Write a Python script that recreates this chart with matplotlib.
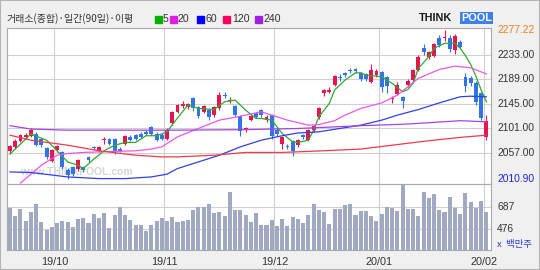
import matplotlib
matplotlib.use('Agg')
import matplotlib.pyplot as plt
from matplotlib.patches import Rectangle

plt.rcParams['font.family'] = ['Liberation Sans', 'Noto Sans CJK KR', 'DejaVu Sans']

# ---------------- data ----------------
month_labels = ['19/10', '19/11', '19/12', '20/01', '20/02']
month_start_idx = [9, 30, 51, 71, 91]

opens = [2061, 2068, 2079, 2085, 2088, 2092, 2082, 2066, 2042, 2062,
         2058, 2027, 2032, 2028, 2031, 2049, 2068, 2061, 2080, 2082,
         2082, 2065, 2073, 2086, 2089, 2091, 2095, 2103, 2092, 2089,
         2082, 2110, 2131, 2141, 2139, 2155, 2139, 2130, 2134, 2125,
         2137, 2161, 2151, 2141, 2123, 2099, 2117, 2129, 2134, 2116,
         2125, 2098, 2074, 2070, 2079, 2071, 2089, 2080, 2098, 2121,
         2164, 2167, 2179, 2194, 2201, 2206, 2207, 2201, 2199, 2185,
         2197, 2203, 2194, 2154, 2163, 2158, 2179, 2188, 2206, 2245,
         2230, 2231, 2263, 2263, 2263, 2242, 2257, 2194, 2191, 2183,
         2164, 2086]
highs = [2072, 2082, 2092, 2093, 2101, 2094, 2084, 2068, 2065, 2072,
         2060, 2030, 2034, 2047, 2033, 2052, 2070, 2070, 2086, 2084,
         2084, 2067, 2089, 2090, 2091, 2094, 2099, 2105, 2094, 2093,
         2101, 2132, 2145, 2150, 2147, 2157, 2141, 2143, 2136, 2141,
         2167, 2166, 2157, 2143, 2125, 2103, 2127, 2131, 2136, 2126,
         2127, 2101, 2088, 2073, 2081, 2083, 2091, 2100, 2108, 2139,
         2172, 2175, 2197, 2198, 2203, 2209, 2210, 2203, 2201, 2217,
         2208, 2205, 2196, 2160, 2184, 2160, 2190, 2208, 2233, 2253,
         2241, 2255, 2269, 2277.22, 2269, 2271, 2260, 2200, 2196, 2186,
         2167, 2125]
lows = [2057, 2064, 2076, 2083, 2086, 2069, 2067, 2046, 2040, 2058,
        2028, 2010.90, 2016, 2025, 2022, 2041, 2062, 2059, 2074, 2072,
        2056, 2059, 2071, 2078, 2081, 2084, 2090, 2089, 2079, 2081,
        2080, 2108, 2129, 2137, 2136, 2132, 2119, 2128, 2117, 2122,
        2135, 2155, 2146, 2123, 2088, 2094, 2114, 2119, 2122, 2113,
        2083, 2087, 2064, 2064, 2052, 2068, 2083, 2078, 2095, 2118,
        2160, 2164, 2177, 2187, 2194, 2200, 2200, 2187, 2186, 2182,
        2194, 2167, 2165, 2147, 2161, 2137, 2176, 2186, 2204, 2233,
        2226, 2229, 2248, 2259, 2238, 2235, 2244, 2167, 2178, 2144,
        2117, 2080]
closes = [2070, 2079, 2090, 2090, 2099, 2071, 2071, 2049, 2063, 2070,
          2031, 2017, 2020, 2044, 2027, 2045, 2066, 2067, 2082, 2074,
          2058, 2061, 2087, 2080, 2083, 2086, 2091, 2091, 2081, 2083,
          2099, 2131, 2143, 2145, 2145, 2137, 2124, 2141, 2122, 2139,
          2162, 2159, 2153, 2125, 2097, 2101, 2124, 2121, 2126, 2122,
          2088, 2092, 2085, 2068, 2061, 2081, 2086, 2098, 2106, 2137,
          2170, 2171, 2195, 2192, 2197, 2204, 2204, 2190, 2189, 2206,
          2205, 2175, 2177, 2155, 2180, 2151, 2187, 2206, 2230, 2239,
          2239, 2252, 2251, 2266, 2243, 2268, 2247, 2178, 2183, 2148,
          2119, 2114]
volumes = [680, 603, 671, 551, 635, 713, 541, 467, 493, 535,
           551, 541, 493, 567, 577, 535, 619, 583, 629, 483,
           609, 690, 609, 557, 515, 509, 457, 515, 551, 583,
           551, 593, 544, 551, 561, 658, 690, 690, 719, 625,
           642, 603, 830, 661, 661, 612, 541, 625, 515, 509,
           561, 502, 567, 502, 593, 567, 535, 609, 719, 658,
           635, 525, 668, 668, 703, 713, 609, 651, 651, 603,
           551, 616, 690, 680, 651, 900, 668, 668, 603, 829,
           771, 813, 658, 635, 787, 680, 616, 820, 739, 680,
           745, 635]

ma5_idx = [0, 4, 7, 9, 11, 13, 14, 16, 18, 20, 22, 24, 26, 28, 30, 32, 34, 36, 39, 41,
           43, 45, 47, 48, 50, 52, 54, 55, 57, 58, 59, 61, 62, 64, 66, 67, 68, 71, 73, 75,
           76, 77, 78, 80, 81, 83, 85, 86, 87, 88, 89, 90, 91]
ma5_val = [2055, 2091, 2080, 2061, 2041, 2035, 2029, 2046, 2061, 2071, 2076, 2076, 2088, 2088, 2095, 2120, 2143, 2137, 2135, 2149,
           2152, 2134, 2119, 2119, 2116, 2092, 2077, 2076, 2080, 2098, 2122, 2146, 2170, 2188, 2201, 2201, 2197, 2194, 2182, 2167,
           2171, 2182, 2209, 2230, 2245, 2254, 2254, 2245, 2232, 2216, 2195, 2170, 2149]
ma20_idx = [2, 6, 9, 11, 14, 17, 24, 27, 29, 32, 36, 40, 44, 48, 50, 53, 57, 59, 62, 64, 67, 71, 74, 78, 82, 85, 88, 91]
ma20_val = [2003, 2035, 2053, 2056, 2058, 2059, 2061, 2064, 2068, 2086, 2101, 2116, 2123, 2131, 2125, 2116, 2107, 2108,
            2115, 2125, 2137, 2147, 2161, 2191, 2207, 2213, 2210, 2199]
ma60_idx = [0, 4, 11, 17, 22, 27, 30, 32, 36, 40, 44, 48, 52, 55, 59, 63, 67, 71, 74, 78, 82, 86, 88, 91]
ma60_val = [2023, 2022, 2014, 2011, 2011, 2014, 2019, 2029, 2041, 2053, 2068, 2080, 2088, 2093, 2095, 2101, 2107, 2116,
            2125, 2135, 2147, 2158, 2159, 2158]
ma120_idx = [0, 4, 11, 17, 24, 29, 32, 39, 45, 52, 60, 67, 73, 80, 86, 91]
ma120_val = [2089, 2080, 2071, 2061, 2053, 2050, 2050, 2053, 2058, 2058, 2061, 2064, 2071, 2079, 2085, 2089]
ma240_idx = [0, 4, 11, 17, 32, 45, 55, 67, 76, 86, 91]
ma240_val = [2106, 2100, 2098, 2098, 2098, 2099, 2101, 2106, 2109, 2115, 2113]

price_ticks = [2233, 2189, 2145, 2101, 2057]
price_max_label = 2277.22
price_min_label = 2010.90
vol_ticks = [687, 476]

header_main = '거래소(종합)·일간(90일)·이평'
ma_names = ['5', '20', '60', '120', '240']

# ---------------- styles / layout ----------------
W, H = 540, 270
UP = '#e5154f'
DOWN = '#3274e6'
MA_COLORS = ['#2eaa2e', '#ee55ee', '#3040e8', '#ee3b4b', '#a444dc']
LEG_COLORS = ['#00b000', '#e020e0', '#0000ff', '#ff0060', '#a020e0']
GRID = '#cfcfcf'
LAB = 7.4

fig = plt.figure(figsize=(W / 100, H / 100), dpi=100, facecolor='#f0f0f0')

ax_p = fig.add_axes([7 / W, 1 - 184 / H, 484 / W, 156 / H])
ax_v = fig.add_axes([7 / W, 1 - 250 / H, 484 / W, 66 / H], sharex=ax_p)

n = len(closes)
idx = list(range(n))
xl = (-0.57, 91.88)

for ax in (ax_p, ax_v):
    ax.set_facecolor('white')
    for s in ax.spines.values():
        s.set_color('#a8a8a8')
        s.set_linewidth(0.8)
    ax.tick_params(left=False, right=False, bottom=False, top=False,
                   labelleft=False, labelbottom=False)
    for m in month_start_idx:
        ax.axvline(m - 0.5, color=GRID, lw=0.8, zorder=0)

ax_p.set_xlim(*xl)
ax_p.set_ylim(2001.3, 2281.5)
for t in price_ticks:
    ax_p.axhline(t, color=GRID, lw=0.8, zorder=0)

# watermark
ax_p.text(0.027, 0.045, 'www.THINKPOOL.com', transform=ax_p.transAxes, fontsize=7.5,
          fontweight='bold', color='#d4d4d4', ha='left', va='bottom', zorder=1)

# candles
colors = [UP if c >= o else DOWN for o, c in zip(opens, closes)]
ax_p.vlines(idx, lows, highs, colors=colors, lw=0.8, zorder=2)
bottoms = [min(o, c) for o, c in zip(opens, closes)]
heights = [max(abs(c - o), 0.9) for o, c in zip(opens, closes)]
ax_p.bar(idx, heights, bottom=bottoms, width=0.74, color=colors, zorder=3, linewidth=0)

# moving averages
for (xs, ys), col in zip([(ma5_idx, ma5_val), (ma20_idx, ma20_val), (ma60_idx, ma60_val),
                          (ma120_idx, ma120_val), (ma240_idx, ma240_val)], MA_COLORS):
    ax_p.plot(xs, ys, color=col, lw=0.9, zorder=4)

# price labels
ytr = ax_p.get_yaxis_transform()
for t in price_ticks:
    ax_p.text(1.0124, t, f'{t:.2f}', transform=ytr, fontsize=LAB, color='#333333',
              ha='left', va='center', clip_on=False)
ax_p.text(1.0124, price_max_label, f'{price_max_label:.2f}', transform=ytr, fontsize=LAB,
          color='#e8801e', ha='left', va='center', clip_on=False)
ax_p.text(1.0124, price_min_label, f'{price_min_label:.2f}', transform=ytr, fontsize=LAB,
          color='#2222dd', ha='left', va='center', clip_on=False)

# volume
ax_v.set_ylim(269, 911)
for t in vol_ticks:
    ax_v.axhline(t, color=GRID, lw=0.8, zorder=0)
ax_v.bar(idx, volumes, width=0.78, color='#a0a9c1', zorder=2, linewidth=0)
vtr = ax_v.get_yaxis_transform()
for t in vol_ticks:
    ax_v.text(1.0124, t, f'{t}', transform=vtr, fontsize=LAB, color='#333333',
              ha='left', va='center', clip_on=False)
fig.text(497 / W, 1 - 244 / H, 'x  백만주', fontsize=6.8, color='#2b3bd8',
         ha='left', va='center', family=['Noto Sans CJK KR', 'DejaVu Sans'])

# month labels
xtr = ax_v.get_xaxis_transform()
for m, lab in zip(month_start_idx, month_labels):
    ax_v.text(m - 0.5, -0.18, lab, transform=xtr, fontsize=7.8, color='#333333',
              ha='center', va='center', clip_on=False)

# header
fig.text(7 / W, 1 - 19 / H, header_main, fontsize=7.2, color='#333333', ha='left', va='center',
         family=['Noto Sans CJK KR', 'DejaVu Sans'])
sq_x = [155, 170, 197, 223, 255]
num_x = [163, 178, 205, 232, 263]
for sx, nx, name, col in zip(sq_x, num_x, ma_names, LEG_COLORS):
    fig.patches.append(Rectangle((sx / W, 1 - 22.5 / H), 7 / W, 7 / H,
                                 transform=fig.transFigure, color=col))
    fig.text(nx / W, 1 - 19 / H, name, fontsize=7.6, color='#333333', ha='left', va='center')

# logo
fig.text(419 / W, 1 - 18 / H, 'THINK', fontsize=7.8, fontweight='heavy', color='#1a1a1a',
         ha='left', va='center')
fig.text(461 / W, 1 - 18 / H, 'POOL', fontsize=7.8, fontweight='heavy', color='white',
         ha='left', va='center',
         bbox=dict(boxstyle='square,pad=0.12', facecolor='#3f7fe6', edgecolor='none'))

# outer frame
fig.patches.append(Rectangle((0, 0), 1, 1, transform=fig.transFigure, fill=False,
                             edgecolor='#b4b4b4', lw=1.5))

fig.savefig('out.png', dpi=100, facecolor=fig.get_facecolor())
